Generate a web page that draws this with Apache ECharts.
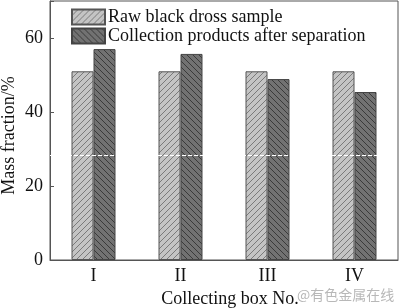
<!DOCTYPE html>
<html>
<head>
<meta charset="utf-8">
<script src="https://cdn.jsdelivr.net/npm/echarts@6/dist/echarts.min.js"></script>
<style>html,body{margin:0;padding:0;background:#fff;}#c{width:400px;height:308px;}</style>
</head>
<body>
<div id="c"></div>
<script>
const categories = ['I', 'II', 'III', 'IV'];
const seriesNames = ['Raw black dross sample', 'Collection products after separation'];
const rawValues = [51.0, 51.0, 51.0, 51.0];
const productValues = [57.0, 55.7, 48.9, 45.4];
const yTicks = [0, 20, 40, 60];
const artifactLevel = 28.3;

function makePattern(bg, line, dir) {
  const s = 6;
  const c = document.createElement('canvas');
  c.width = s; c.height = s;
  const g = c.getContext('2d');
  g.fillStyle = bg; g.fillRect(0, 0, s, s);
  g.strokeStyle = line; g.lineWidth = 1;
  g.beginPath();
  if (dir === '/') {
    g.moveTo(0, s); g.lineTo(s, 0);
    g.moveTo(-s/2, s/2); g.lineTo(s/2, -s/2);
    g.moveTo(s/2, s*1.5); g.lineTo(s*1.5, s/2);
  } else {
    g.moveTo(0, 0); g.lineTo(s, s);
    g.moveTo(-s/2, s/2); g.lineTo(s/2, s*1.5);
    g.moveTo(s/2, -s/2); g.lineTo(s*1.5, s/2);
  }
  g.stroke();
  return c;
}
const lightPat = { image: makePattern('#c4c4c4', '#7a7a7a', '/'), repeat: 'repeat' };
const darkPat = { image: makePattern('#727272', '#3a3a3a', '\\'), repeat: 'repeat' };

const serif = 'Liberation Serif';
const fs = 18;
const chart = echarts.init(document.getElementById('c'), null, { renderer: 'canvas' });
chart.setOption({
  animation: false,
  backgroundColor: '#fff',
  grid: { left: 50, right: 2, top: 1, bottom: 48, show: true, borderColor: '#555', borderWidth: 1,
    containLabel: false, outerBoundsMode: 'none' },
  legend: {
    orient: 'vertical', left: 66, top: 3, itemGap: 1, itemWidth: 33, itemHeight: 15,
    icon: 'rect',
    textStyle: { fontFamily: serif, fontSize: fs, color: '#111', padding: [0, 0, 0, -2] },
    data: seriesNames
  },
  xAxis: {
    type: 'category', data: categories,
    axisLine: { lineStyle: { color: '#555' } },
    axisTick: { show: false },
    axisLabel: { fontFamily: serif, fontSize: fs, color: '#111', margin: 7 },
    name: 'Collecting box No.', nameLocation: 'middle', nameGap: 30, nameMoveOverlap: false,
    nameTextStyle: { fontFamily: serif, fontSize: fs, color: '#111', padding: [0, 0, 0, 12] }
  },
  yAxis: {
    type: 'value', min: 0, max: 70, interval: 20,
    axisLine: { show: true, lineStyle: { color: '#555' } },
    axisTick: { show: true, inside: true, length: 4, lineStyle: { color: '#555' } },
    splitLine: { show: false },
    axisLabel: { fontFamily: serif, fontSize: fs, color: '#111', margin: 7,
      formatter: v => yTicks.indexOf(v) >= 0 ? String(v) : '' },
    name: 'Mass fraction/%', nameLocation: 'middle', nameGap: 32, nameMoveOverlap: false,
    nameTextStyle: { fontFamily: serif, fontSize: fs, color: '#111', padding: [0, 10, 0, 0] }
  },
  series: [
    { name: seriesNames[0], type: 'bar', data: rawValues, barWidth: 22, barGap: '0%',
      itemStyle: { color: lightPat, borderColor: '#555', borderWidth: 1 } },
    { name: seriesNames[1], type: 'bar', data: productValues, barWidth: 22, barGap: '0%',
      itemStyle: { color: darkPat, borderColor: '#444', borderWidth: 1 },
      markLine: { silent: true, symbol: 'none', label: { show: false }, z: 10,
        lineStyle: { color: '#fff', type: 'dashed', width: 1 },
        data: [{ yAxis: artifactLevel }] } }
  ],
  graphic: [{
    type: 'text', left: 297, top: 288,
    style: { text: '@有色金属在线', font: '14px "Noto Sans CJK SC"', fill: '#b8b8b8' }
  }]
});
</script>
</body>
</html>
